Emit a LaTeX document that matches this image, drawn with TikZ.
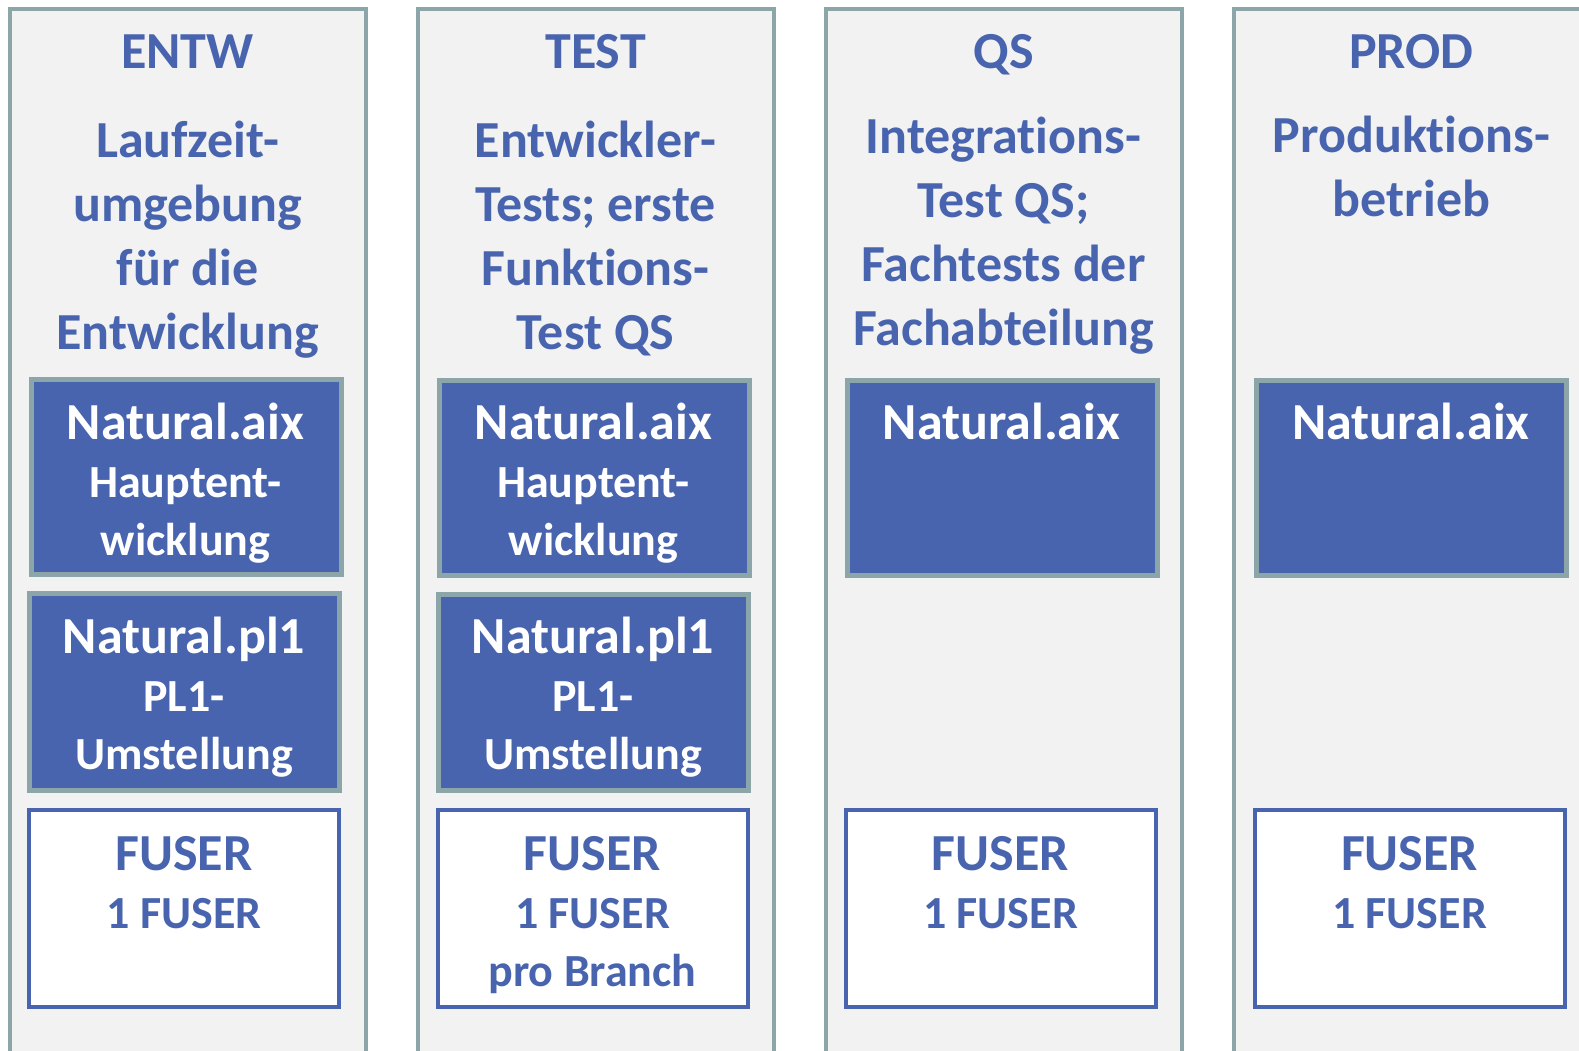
\documentclass[tikz,border=0pt]{standalone}
\usepackage{fontspec}
\setmainfont{Carlito}[RawFeature={-liga;-clig;-calt;-dlig}]
\usetikzlibrary{positioning}
\definecolor{rahmen}{HTML}{8CA5A8}
\definecolor{blau}{HTML}{4864AE}
\definecolor{hell}{HTML}{F2F2F2}
\begin{document}
\begin{tikzpicture}[x=1pt,y=-1pt,
    spalte/.style={draw=rahmen,fill=hell,line width=4.5pt,minimum width=356pt,minimum height=1100pt,anchor=north west,inner sep=0pt},
    titel/.style={text=blau,font=\bfseries\fontsize{52}{64}\selectfont,align=center,anchor=base,inner sep=0pt},
    umg/.style={draw=rahmen,fill=blau,line width=5pt,minimum width=310pt,minimum height=195pt,anchor=north west,inner sep=0pt},
    fuser/.style={draw=blau,fill=white,line width=4pt,minimum width=310pt,minimum height=197pt,anchor=north west,inner sep=0pt},
    weiss/.style={text=white,font=\bfseries\fontsize{52}{58}\selectfont,align=center,anchor=base,inner sep=0pt},
    blautext/.style={weiss,text=blau}]
    \newcommand{\kl}{\fontsize{46}{58}\selectfont}
    \fill[white] (0,0) rectangle (1579,1051);
    \clip (0,0) rectangle (1579,1051);
    \useasboundingbox (0,0) rectangle (1579,1051);

    % Spalten
    \node[spalte] (s1) at (7.5,7) {};
    \node[spalte] (s2) at (415.5,7) {};
    \node[spalte] (s3) at (823.5,7) {};
    \node[spalte] (s4) at (1231.5,7) {};

    % Titel und Beschreibung (base = letzte Zeile)
    \node[titel] (t1) at (187.5,69) {ENTW};
    \node[titel] (t2) at (595.5,69) {TEST};
    \node[titel] (t3) at (1003.5,69) {QS};
    \node[titel] (t4) at (1411.5,69) {PROD};
    \node[titel] (d1) at (187.5,349) {Laufzeit-\\umgebung\\für die\\Entwicklung};
    \node[titel] (d2) at (595.5,349) {Entwickler-\\Tests; erste\\Funktions-\\Test QS};
    \node[titel] (d3) at (1003.5,345) {Integrations-\\Test QS;\\Fachtests der\\Fachabteilung};
    \node[titel] (d4) at (1411.5,217) {Produktions-\\betrieb};

    % Natural.aix
    \node[umg] (a1) at (28.5,377) {};
    \node[umg] (a2) at (436.5,377.5) {};
    \node[umg] (a3) at (844.5,377.5) {};
    \node[umg] (a4) at (1254,377.5) {};
    \node[weiss] (na1) at (185.5,555) {Natural.aix\\{\kl Hauptent-}\\{\kl wicklung}};
    \node[weiss] (na2) at (593.5,555) {Natural.aix\\{\kl Hauptent-}\\{\kl wicklung}};
    \node[weiss] (na3) at (1001.5,439) {Natural.aix};
    \node[weiss] (na4) at (1411,439) {Natural.aix};

    % Natural.pl1
    \node[umg,minimum height=196.5pt] (p1) at (27,591) {};
    \node[umg,minimum height=196.5pt] (p2) at (436,591.5) {};
    \node[weiss] (np1) at (184,769) {Natural.pl1\\{\kl PL1-}\\{\kl Umstellung}};
    \node[weiss] (np2) at (593,769) {Natural.pl1\\{\kl PL1-}\\{\kl Umstellung}};

    % FUSER
    \node[fuser] (f1) at (27,808) {};
    \node[fuser] (f2) at (435.5,808) {};
    \node[fuser] (f3) at (843.5,808) {};
    \node[fuser] (f4) at (1252.5,808) {};
    \node[blautext] (nf1) at (184,928) {FUSER\\{\kl 1 FUSER}};
    \node[blautext] (nf2) at (592.5,986) {FUSER\\{\kl 1 FUSER}\\{\kl pro Branch}};
    \node[blautext] (nf3) at (1000.5,928) {FUSER\\{\kl 1 FUSER}};
    \node[blautext] (nf4) at (1409.5,928) {FUSER\\{\kl 1 FUSER}};
\end{tikzpicture}
\end{document}
